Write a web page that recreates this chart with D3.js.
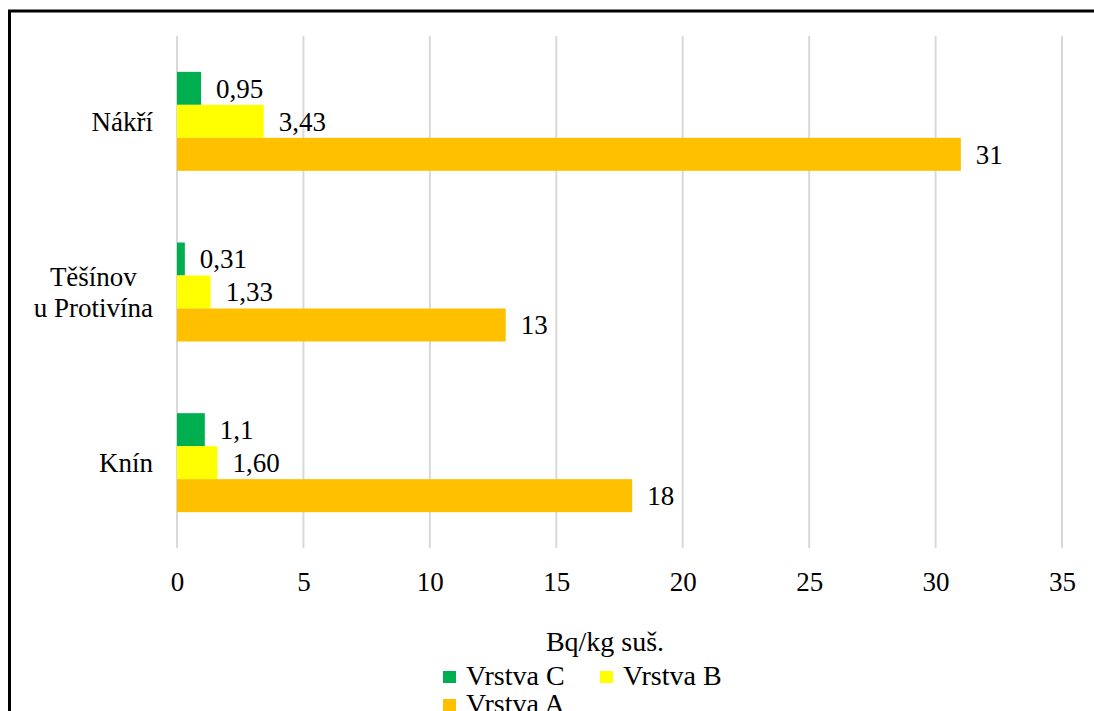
<!DOCTYPE html>
<html>
<head>
<meta charset="utf-8">
<script src="https://cdn.jsdelivr.net/npm/d3@7"></script>
<style>
  html, body { margin: 0; padding: 0; background: #fff; }
  svg { display: block; }
</style>
</head>
<body>
<svg id="chart" width="1094" height="711" font-family="Liberation Serif, DejaVu Serif, serif"></svg>
<script>
// Sites (top to bottom) and activity per soil layer, Bq/kg dry mass
const categories = ["Nákří", "Těšínov\nu Protivína", "Knín"];
const seriesNames = ["Vrstva C", "Vrstva B", "Vrstva A"];
const vrstvaC = [0.95, 0.31, 1.1];
const vrstvaB = [3.43, 1.33, 1.60];
const vrstvaA = [31, 13, 18];
// decimals shown in each value label
const decimalsC = [2, 2, 1];
const decimalsB = [2, 2, 2];
const decimalsA = [0, 0, 0];
const xTicks = [0, 5, 10, 15, 20, 25, 30, 35];
const axisTitle = "Bq/kg suš.";

const colors = { "Vrstva C": "#00b050", "Vrstva B": "#ffff00", "Vrstva A": "#ffc000" };

const series = [
  { name: "Vrstva C", values: vrstvaC, decimals: decimalsC },
  { name: "Vrstva B", values: vrstvaB, decimals: decimalsB },
  { name: "Vrstva A", values: vrstvaA, decimals: decimalsA }
];

const czLocale = d3.formatLocale({ decimal: ",", thousands: "\u00a0", grouping: [3], currency: ["", " Kč"] });
const fmt = (v, d) => czLocale.format("." + d + "f")(v);

const SERIF = "Liberation Serif, DejaVu Serif, serif";
const FONT = 27;

const svg = d3.select("#chart");

const plot = { left: 177, right: 1062, top: 36, bottom: 548 };

const x = d3.scaleLinear().domain([0, 35]).range([plot.left, plot.right]);
const y0 = d3.scaleBand().domain(categories).range([plot.top, plot.bottom])
  .paddingInner(0.42).paddingOuter(0.21);
const y1 = d3.scaleBand().domain(seriesNames).range([0, y0.bandwidth()]);

const txt = (sel, size) => sel.attr("font-family", SERIF).attr("font-size", size).attr("fill", "#000");

// outer frame (left and top edges visible)
svg.append("rect")
  .attr("x", 9.5).attr("y", 11)
  .attr("width", 1200).attr("height", 800)
  .attr("fill", "none").attr("stroke", "#000").attr("stroke-width", 3);

// vertical gridlines
svg.append("g").selectAll("line").data(xTicks).join("line")
  .attr("x1", d => x(d)).attr("x2", d => x(d))
  .attr("y1", plot.top).attr("y2", plot.bottom)
  .attr("stroke", "#d9d9d9").attr("stroke-width", 2);

// bars with value labels
const groups = svg.append("g").selectAll("g").data(categories).join("g")
  .attr("transform", d => `translate(0,${y0(d)})`);

groups.each(function(cat, ci) {
  const g = d3.select(this);
  series.forEach(s => {
    const v = s.values[ci];
    g.append("rect")
      .attr("x", x(0))
      .attr("y", y1(s.name))
      .attr("width", x(v) - x(0))
      .attr("height", y1.bandwidth())
      .attr("fill", colors[s.name]);
    g.append("text")
      .call(txt, FONT)
      .attr("x", x(v) + 15)
      .attr("y", y1(s.name) + y1.bandwidth() / 2)
      .attr("dy", "0.35em")
      .text(fmt(v, s.decimals[ci]));
  });
});

// category labels: block right-aligned, lines centred within block
const labelRight = 153;
const lineH = 31;
categories.forEach(cat => {
  const lines = cat.split("\n");
  const g = svg.append("g");
  const texts = lines.map((ln, i) => g.append("text")
    .call(txt, FONT)
    .attr("text-anchor", "middle")
    .attr("y", y0(cat) + y0.bandwidth() / 2 + (i - (lines.length - 1) / 2) * lineH)
    .attr("dy", "0.35em")
    .text(ln));
  const w = d3.max(texts, t => t.node().getComputedTextLength());
  texts.forEach(t => t.attr("x", labelRight - w / 2));
});

// x axis tick labels
const xAxis = d3.axisBottom(x).tickValues(xTicks).tickSize(0).tickPadding(23.5).tickFormat(d => d);
const ax = svg.append("g").attr("transform", `translate(0,${plot.bottom})`).call(xAxis)
  .attr("font-family", SERIF).attr("font-size", FONT);
ax.select(".domain").remove();
ax.selectAll("text").call(txt, FONT);

// axis title
svg.append("text")
  .call(txt, 28)
  .attr("x", 605).attr("y", 651)
  .attr("text-anchor", "middle")
  .text(axisTitle);

// legend (second row runs to the bottom edge of the frame)
const legendItems = [
  { name: "Vrstva C", x: 443, y: 671 },
  { name: "Vrstva B", x: 600, y: 671 },
  { name: "Vrstva A", x: 443, y: 699 }
];
const lg = svg.append("g").selectAll("g").data(legendItems).join("g")
  .attr("transform", d => `translate(${d.x},${d.y})`);
lg.append("rect").attr("width", 13).attr("height", 12).attr("fill", d => colors[d.name]);
lg.append("text").call(txt, 28).attr("x", 23).attr("y", 14).text(d => d.name);
</script>
</body>
</html>
